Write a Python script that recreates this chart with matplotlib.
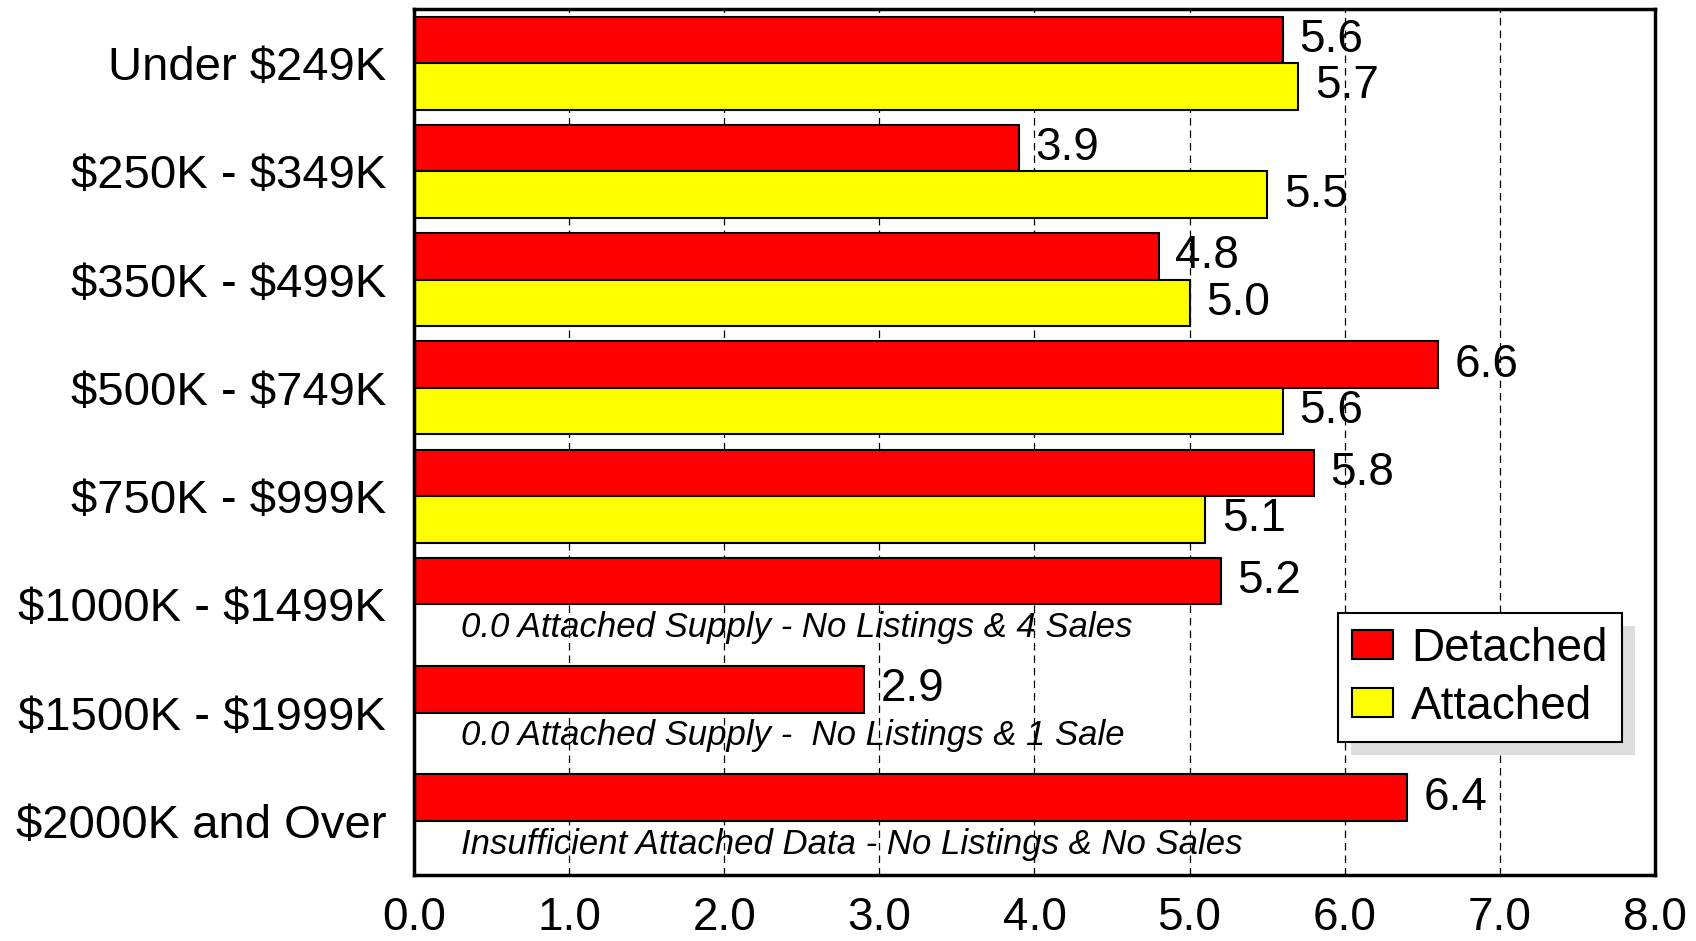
import matplotlib

matplotlib.use("Agg")
import matplotlib.pyplot as plt
import numpy as np
from matplotlib.patches import Rectangle

plt.rcParams["font.family"] = ["Liberation Sans", "DejaVu Sans"]
plt.rcParams["text.parse_math"] = False  # labels contain "$"

# Months of supply by price band
categories = [
    "Under $249K", "$250K - $349K", "$350K - $499K", "$500K - $749K",
    "$750K - $999K", "$1000K - $1499K", "$1500K - $1999K", "$2000K and Over",
]
detached = [5.6, 3.9, 4.8, 6.6, 5.8, 5.2, 2.9, 6.4]
attached = [5.7, 5.5, 5.0, 5.6, 5.1, None, None, None]
notes = [
    None, None, None, None, None,
    "0.0 Attached Supply - No Listings & 4 Sales",
    "0.0 Attached Supply -  No Listings & 1 Sale",
    "Insufficient Attached Data - No Listings & No Sales",
]
x_ticks = [0, 1, 2, 3, 4, 5, 6, 7, 8]

RED = "#ff0000"
YELLOW = "#ffff00"
BAR_H = 0.43
FS = 33

fig = plt.figure(figsize=(16.96, 9.41), dpi=100, facecolor="white")
ax = fig.add_axes([0.2441, 0.0701, 0.7317, 0.9203])

y = np.arange(len(categories))
ax.barh(y - BAR_H / 2, detached, height=BAR_H, color=RED,
        edgecolor="black", linewidth=1.5, label="Detached", zorder=3)
att_idx = [i for i, v in enumerate(attached) if v is not None]
att_val = [attached[i] for i in att_idx]
ax.barh(np.array(att_idx) + BAR_H / 2, att_val, height=BAR_H, color=YELLOW,
        edgecolor="black", linewidth=1.5, label="Attached", zorder=3)

# value labels just past the bar ends
for i, v in enumerate(detached):
    ax.annotate(f"{v:.1f}", (v, i - BAR_H / 2), xytext=(12, 0),
                textcoords="offset points", va="center", ha="left",
                fontsize=FS, zorder=4)
for i, v in zip(att_idx, att_val):
    ax.annotate(f"{v:.1f}", (v, i + BAR_H / 2), xytext=(12, 0),
                textcoords="offset points", va="center", ha="left",
                fontsize=FS, zorder=4)

# notes where there is no attached bar
for i, n in enumerate(notes):
    if n:
        ax.text(0.3, i + BAR_H / 2, n, va="center", ha="left",
                fontsize=25, style="italic", zorder=4)

ax.set_xlim(0, 8)
ax.set_ylim(len(categories) - 0.5, -0.5)
ax.set_yticks(y)
ax.set_yticklabels(categories, fontsize=34)
ax.set_xticks(x_ticks)
ax.set_xticklabels([f"{t:.1f}" for t in x_ticks], fontsize=FS)
ax.tick_params(axis="y", length=0, pad=20)
ax.tick_params(axis="x", length=0, pad=15)

for xv in x_ticks[1:-1]:
    ax.axvline(xv, color="black", linewidth=0.9, linestyle=(0, (6, 4)),
               zorder=1)
for s in ax.spines.values():
    s.set_linewidth(2.5)
    s.set_zorder(5)

leg = ax.legend(loc="upper left", bbox_to_anchor=(0.7446, 0.3025),
                borderaxespad=0, fontsize=FS, fancybox=False,
                frameon=True, edgecolor="black", framealpha=1,
                handlelength=0.9, handleheight=0.6, handletextpad=0.4,
                labelspacing=0.3, borderpad=0.3)
leg.get_frame().set_linewidth(1.5)
leg.set_zorder(6)

# flat grey drop shadow behind the legend box
fig.canvas.draw()
bb = leg.get_window_extent().transformed(fig.transFigure.inverted())
shadow = Rectangle((bb.x0 + 13 / 1696, bb.y0 - 13 / 941), bb.width, bb.height,
                   transform=fig.transFigure, facecolor="#dddddd",
                   edgecolor="none", zorder=5.5, clip_on=False)
ax.add_artist(shadow)

fig.savefig("out.png", dpi=100, facecolor="white")
